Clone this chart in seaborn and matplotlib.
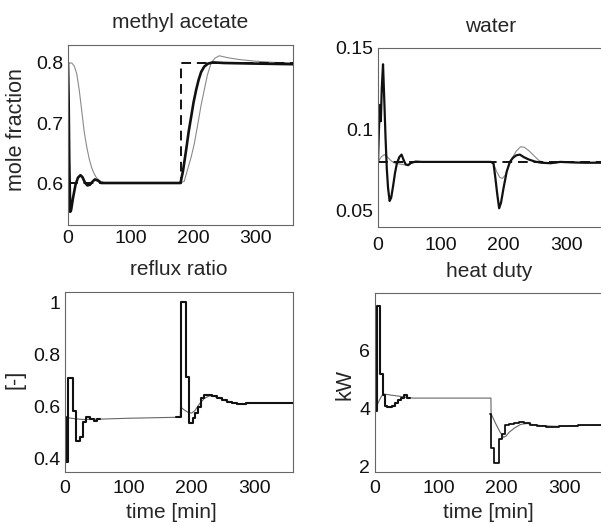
import matplotlib
matplotlib.use("Agg")
import matplotlib.pyplot as plt
import seaborn as sns

# ---------------- data ----------------
xticks = [0, 100, 200, 300]

# methyl acetate (mole fraction)
ma_set_t = [0, 180, 180, 360]
ma_set_v = [0.6, 0.6, 0.8, 0.8]
ma_meas_t = [0, 1, 2, 3.5, 5, 8, 12, 16, 20, 23, 27, 31, 35, 39, 43, 48, 53, 60, 120, 180,
             184, 189, 193, 197, 201, 205, 209, 213, 218, 224, 232, 250, 300, 360]
ma_meas_v = [0.80, 0.74, 0.64, 0.552, 0.555, 0.575, 0.597, 0.609, 0.613, 0.610, 0.601, 0.596,
             0.597, 0.602, 0.606, 0.604, 0.600, 0.600, 0.600, 0.600,
             0.620, 0.655, 0.685, 0.710, 0.735, 0.755, 0.772, 0.785, 0.794, 0.799, 0.801,
             0.800, 0.799, 0.798]
ma_model_t = [0, 6, 10, 14, 18, 22, 26, 30, 34, 38, 42, 46, 52, 60, 180,
              186, 192, 197, 202, 208, 213, 218, 223, 229, 235, 242, 255, 272, 300, 330, 360]
ma_model_v = [0.80, 0.80, 0.795, 0.782, 0.755, 0.72, 0.685, 0.66, 0.64, 0.625, 0.615, 0.608,
              0.603, 0.600, 0.600,
              0.603, 0.625, 0.643, 0.665, 0.70, 0.73, 0.755, 0.78, 0.80, 0.808, 0.812, 0.809,
              0.806, 0.803, 0.801, 0.800]

# water (mole fraction)
wa_set_t = [0, 360]
wa_set_v = [0.08, 0.08]
wa_meas_t = [0, 1.5, 3, 4.5, 6, 8, 10, 12, 14, 16, 18.5, 21, 24, 27, 30, 34, 37.5, 41, 44, 48,
             53, 60, 70, 180, 184, 187, 190, 193, 196, 200, 205, 210, 215, 220, 226, 232, 240,
             250, 260, 275, 290, 310, 330, 360]
wa_meas_v = [0.080, 0.100, 0.115, 0.105, 0.125, 0.140, 0.118, 0.095, 0.076, 0.064, 0.056, 0.058,
             0.065, 0.073, 0.079, 0.083, 0.0845, 0.081, 0.0785, 0.078, 0.0795, 0.0802, 0.080,
             0.080, 0.079, 0.070, 0.060, 0.0515, 0.055, 0.064, 0.074, 0.080, 0.0825, 0.084,
             0.0845, 0.083, 0.0815, 0.0802, 0.0795, 0.0792, 0.080, 0.0797, 0.0795, 0.0795]
wa_model_t = [0, 5, 10, 15, 20, 25, 30, 38, 45, 52, 60, 180, 184, 189, 194, 198, 203, 208, 213,
              220, 227, 233, 240, 248, 256, 264, 275, 290, 320, 360]
wa_model_v = [0.080, 0.083, 0.0845, 0.083, 0.081, 0.0795, 0.079, 0.0785, 0.078, 0.079, 0.080,
              0.080, 0.079, 0.074, 0.0705, 0.0698, 0.072, 0.077, 0.082, 0.0865, 0.0893, 0.089,
              0.087, 0.084, 0.081, 0.0795, 0.079, 0.0797, 0.0795, 0.0795]

# reflux ratio [-]  (controller moves: start-up phase and set-point change phase)
rr_u1_t = [0, 1, 5, 12, 17, 24, 28, 33, 40, 45, 50, 55]
rr_u1_v = [0.56, 0.39, 0.71, 0.585, 0.47, 0.485, 0.54, 0.56, 0.555, 0.547, 0.552, 0.552]
rr_u2_t = [176, 183, 191, 195, 202, 206, 210, 215, 219, 232, 240, 248, 256, 264, 272, 285,
           300, 360]
rr_u2_v = [0.56, 1.0, 0.715, 0.537, 0.556, 0.576, 0.60, 0.633, 0.645, 0.642, 0.635, 0.627,
           0.62, 0.615, 0.612, 0.614, 0.616, 0.616]
rr_model_t = [0, 10, 20, 30, 40, 60, 100, 140, 182, 182.5, 186, 190, 195, 200, 205, 212, 220,
              228, 235, 245, 255, 265, 275, 285, 300, 330, 360]
rr_model_v = [0.56, 0.556, 0.553, 0.551, 0.552, 0.553, 0.556, 0.558, 0.56, 0.60, 0.592, 0.585,
              0.578, 0.576, 0.585, 0.61, 0.632, 0.642, 0.64, 0.632, 0.622, 0.614, 0.611,
              0.612, 0.614, 0.615, 0.616]

# heat duty [kW]
hd_u1_t = [0, 3.5, 7.5, 13, 16, 19, 27, 31, 36, 41, 46, 51, 56]
hd_u1_v = [3.9, 7.55, 5.2, 4.45, 4.1, 4.05, 4.1, 4.2, 4.3, 4.38, 4.45, 4.38, 4.38]
hd_u2_t = [182.3, 183, 188, 195, 201, 205, 212, 220, 228, 236, 245, 255, 270, 290, 320, 360]
hd_u2_v = [3.82, 2.62, 2.11, 2.96, 3.13, 3.42, 3.45, 3.5, 3.52, 3.48, 3.43, 3.4, 3.37, 3.4,
           3.42, 3.42]
hd_model_t = [0, 5, 10, 14, 20, 30, 40, 50, 60, 183, 183.3, 190, 197, 203, 207, 212, 220, 230,
              240, 250, 265, 290, 320, 360]
hd_model_v = [3.9, 4.2, 4.42, 4.5, 4.48, 4.45, 4.42, 4.38, 4.36, 4.36, 3.82, 3.5, 3.2, 3.0,
              3.05, 3.18, 3.32, 3.45, 3.48, 3.44, 3.4, 3.38, 3.41, 3.42]

# ---------------- figure ----------------
sns.set_style("white")
plt.rcParams["font.family"] = ["Liberation Sans", "DejaVu Sans"]

W, H = 601, 525
fig = plt.figure(figsize=(W / 100, H / 100), dpi=100)


def add_ax(left, right, top, bottom):
    return fig.add_axes([left / W, 1 - bottom / H, (right - left) / W, (bottom - top) / H])


ax_ma = add_ax(68, 293, 45, 225)
ax_wa = add_ax(378, 604, 48, 227)
ax_rr = add_ax(65, 293, 292, 472)
ax_hd = add_ax(375, 603, 293, 472)

GRAY = "#8a8a8a"
BLACK = "#111111"


def line(ax, t, v, color, lw, ls="-", steps=False):
    sns.lineplot(x=t, y=v, ax=ax, color=color, linewidth=lw, linestyle=ls,
                 drawstyle="steps-post" if steps else "default",
                 estimator=None, sort=False, legend=False)


# methyl acetate
line(ax_ma, ma_model_t, ma_model_v, GRAY, 0.8)
line(ax_ma, ma_set_t, ma_set_v, BLACK, 1.4, ls=(0, (5, 3)))
line(ax_ma, ma_meas_t, ma_meas_v, BLACK, 1.9)

# water
line(ax_wa, wa_model_t, wa_model_v, GRAY, 0.8)
line(ax_wa, wa_set_t, wa_set_v, BLACK, 1.4, ls=(0, (5, 3)))
line(ax_wa, wa_meas_t, wa_meas_v, BLACK, 1.6)

# reflux ratio
line(ax_rr, rr_model_t, rr_model_v, "#666666", 0.8)
line(ax_rr, rr_u1_t, rr_u1_v, BLACK, 1.5, steps=True)
line(ax_rr, rr_u2_t, rr_u2_v, BLACK, 1.5, steps=True)

# heat duty
line(ax_hd, hd_model_t, hd_model_v, "#666666", 0.8)
line(ax_hd, hd_u1_t, hd_u1_v, BLACK, 1.5, steps=True)
line(ax_hd, hd_u2_t, hd_u2_v, BLACK, 1.3, steps=True)

cfg = [
    (ax_ma, "methyl acetate", (0.53, 0.83), [0.6, 0.7, 0.8], ["0.6", "0.7", "0.8"], 12.2, 3.5),
    (ax_wa, "water", (0.04, 0.15), [0.05, 0.1, 0.15], ["0.05", "0.1", "0.15"], 11.5, 7),
    (ax_rr, "reflux ratio", (0.35, 1.04), [0.4, 0.6, 0.8, 1.0], ["0.4", "0.6", "0.8", "1"], 12.2, 6),
    (ax_hd, "heat duty", (1.8, 8.0), [2, 4, 6], ["2", "4", "6"], 11.5, 6),
]
for ax, title, ylim, yt, ytl, tpad, xpad in cfg:
    ax.set_xlim(0, 360)
    ax.set_ylim(*ylim)
    ax.set_xticks(xticks)
    ax.set_xticklabels([str(v) for v in xticks])
    ax.set_yticks(yt)
    ax.set_yticklabels(ytl)
    ax.set_xlabel("")
    ax.set_ylabel("")
    ax.set_title(title, fontsize=15, pad=tpad)
    ax.tick_params(axis="both", direction="in", length=3, width=0.6, color="#555555",
                   labelsize=14, labelcolor="#111111")
    ax.tick_params(axis="x", pad=xpad)
    ax.tick_params(axis="y", pad=3.5)
    for s in ax.spines.values():
        s.set_visible(True)
        s.set_color("#666666")
        s.set_linewidth(0.8)
    ax.set_facecolor("white")

ax_wa.spines["right"].set_visible(False)
ax_hd.spines["right"].set_visible(False)

# axis labels
fig.text(17 / W, 1 - 130 / H, "mole fraction", rotation=90, ha="center", va="center", fontsize=15.5)
fig.text(15 / W, 1 - 379 / H, "[-]", rotation=90, ha="center", va="center", fontsize=15.5)
fig.text(345 / W, 1 - 385 / H, "kW", rotation=90, ha="center", va="center", fontsize=15.5)
fig.text(171 / W, 1 - 512 / H, "time [min]", ha="center", va="center", fontsize=15)
fig.text(488 / W, 1 - 512 / H, "time [min]", ha="center", va="center", fontsize=15)

fig.savefig("out.png", dpi=100, facecolor="white")
